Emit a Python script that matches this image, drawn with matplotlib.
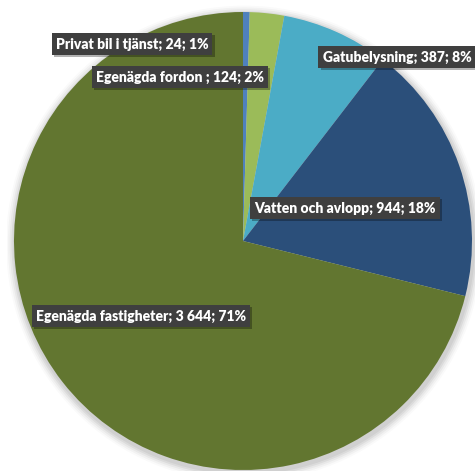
import matplotlib
matplotlib.use("Agg")
import matplotlib.pyplot as plt
import matplotlib.patheffects as pe
from matplotlib.patches import Circle

categories = ["Privat bil i tjänst", "Egenägda fordon ", "Gatubelysning",
              "Vatten och avlopp", "Egenägda fastigheter"]
values = [24, 124, 387, 944, 3644]
value_labels = ["24", "124", "387", "944", "3 644"]
percent_labels = ["1%", "2%", "8%", "18%", "71%"]
colors = ["#4F81BD", "#9BBB59", "#4BACC6", "#2B4F7A", "#627630"]

# label centre positions in pixels (x from left, y from top)
label_pos_px = [(132, 44), (180, 77), (397, 57), (345, 208), (141, 316)]

W, H = 475, 471
fig = plt.figure(figsize=(W / 100, H / 100), dpi=100)
cx, cy, r = 243, 241, 229
m = 1.03
ax = fig.add_axes([(cx - r * m) / W, (H - cy - r * m) / H, 2 * r * m / W, 2 * r * m / H])
ax.axis("off")

# soft shadow
for i, a in enumerate([0.05, 0.05, 0.04, 0.03, 0.02]):
    ax.add_patch(Circle((0.005, -0.012), 1.0 + 0.008 * (i + 1), color="black",
                        alpha=a, lw=0, zorder=0))

ax.pie(values, colors=colors, startangle=90, counterclock=False, radius=1,
       wedgeprops=dict(linewidth=0, edgecolor="none"))
ax.set_xlim(-m, m)
ax.set_ylim(-m, m)

for cat, v, p, (px, py) in zip(categories, value_labels, percent_labels, label_pos_px):
    x, y = px / W, 1 - py / H
    t = fig.text(x, y, f"{cat}; {v}; {p}", ha="center", va="center",
                 color="white", fontsize=10, fontweight="heavy", family=["Lato", "DejaVu Sans"],
                 bbox=dict(boxstyle="square,pad=0.3", facecolor="#3F3F3F", edgecolor="none"))
    t.get_bbox_patch().set_path_effects([
        pe.SimplePatchShadow(offset=(1.5, -1.5), shadow_rgbFace="black", alpha=0.3),
        pe.Normal()])

fig.savefig("out.png", dpi=100)
